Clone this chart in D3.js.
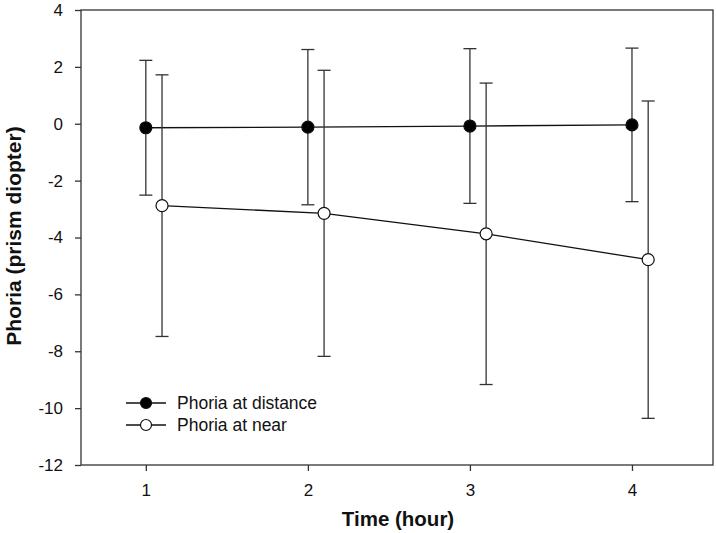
<!DOCTYPE html>
<html>
<head>
<meta charset="utf-8">
<script src="https://cdn.jsdelivr.net/npm/d3@7"></script>
<style>
  body { margin: 0; background: #fff; }
  text { font-family: "Liberation Sans", Arial, sans-serif; fill: #111; }
</style>
</head>
<body>
<div id="chart"></div>
<script>
const hours = [1, 2, 3, 4];
const distMean = [-0.14, -0.12, -0.08, -0.04];
const distSd = [2.37, 2.73, 2.72, 2.70];
const nearMean = [-2.88, -3.15, -3.87, -4.78];
const nearSd = [4.60, 5.03, 5.30, 5.58];
const yTicks = [4, 2, 0, -2, -4, -6, -8, -10, -12];
const xTicks = [1, 2, 3, 4];

const W = 716, H = 533;
const margin = {top: 10, right: 3, bottom: 68, left: 81};
const width = W - margin.left - margin.right;
const height = H - margin.top - margin.bottom;
const ink = '#333';

const svg = d3.select('#chart').append('svg')
  .attr('width', W).attr('height', H);
const chart = svg.append('g')
  .attr('transform', `translate(${margin.left},${margin.top})`);

const x = d3.scaleLinear().domain([0.6, 4.5]).range([0, width]);
const y = d3.scaleLinear().domain([-12, 4]).range([height, 0]);

// frame
chart.append('rect')
  .attr('width', width).attr('height', height)
  .attr('fill', 'none').attr('stroke', ink).attr('stroke-width', 1.3);

// plain hyphen for negatives, like the original
const fmt = d => String(d);
const yAxis = chart.append('g')
  .call(d3.axisLeft(y).tickValues(yTicks).tickFormat(fmt).tickSize(6).tickPadding(12));
const xAxis = chart.append('g')
  .attr('transform', `translate(0,${height})`)
  .call(d3.axisBottom(x).tickValues(xTicks).tickFormat(fmt).tickSize(6).tickPadding(13));
[yAxis, xAxis].forEach(a => {
  a.select('.domain').remove();
  a.selectAll('line').attr('stroke', ink).attr('stroke-width', 1.3);
  a.selectAll('text').style('font-size', '17px').attr('fill', '#111');
});

function series(mean, sd, offset, fill) {
  const pts = hours.map((h, i) => ({x: h + offset, m: mean[i], s: sd[i]}));
  const g = chart.append('g');
  const cap = 6.5;
  pts.forEach(p => {
    const cx = x(p.x);
    g.append('line').attr('x1', cx).attr('x2', cx)
      .attr('y1', y(p.m + p.s)).attr('y2', y(p.m - p.s))
      .attr('stroke', ink).attr('stroke-width', 1.3);
    [p.m + p.s, p.m - p.s].forEach(v => {
      g.append('line').attr('x1', cx - cap).attr('x2', cx + cap)
        .attr('y1', y(v)).attr('y2', y(v))
        .attr('stroke', ink).attr('stroke-width', 1.3);
    });
  });
  g.append('path').datum(pts)
    .attr('d', d3.line().x(d => x(d.x)).y(d => y(d.m)))
    .attr('fill', 'none').attr('stroke', '#111').attr('stroke-width', 1.3);
  g.selectAll('circle').data(pts).join('circle')
    .attr('cx', d => x(d.x)).attr('cy', d => y(d.m)).attr('r', 6)
    .attr('fill', fill).attr('stroke', '#111').attr('stroke-width', 1.2);
}

series(distMean, distSd, 0, '#000');
series(nearMean, nearSd, 0.1, '#fff');

// legend
const legend = [
  {label: 'Phoria at distance', fill: '#000'},
  {label: 'Phoria at near', fill: '#fff'}
];
legend.forEach((d, i) => {
  const lg = svg.append('g').attr('transform', `translate(126,${403 + i * 22})`);
  lg.append('line').attr('x1', 0).attr('x2', 40)
    .attr('stroke', '#111').attr('stroke-width', 1.3);
  lg.append('circle').attr('cx', 20).attr('r', 5.5)
    .attr('fill', d.fill).attr('stroke', '#111').attr('stroke-width', 1.2);
  lg.append('text').attr('x', 51).attr('dy', '0.35em')
    .style('font-size', '17.5px').text(d.label);
});

// axis titles
svg.append('text')
  .attr('x', 398).attr('y', 526)
  .attr('text-anchor', 'middle')
  .style('font-size', '20.5px').style('font-weight', 'bold')
  .text('Time (hour)');
svg.append('text')
  .attr('transform', `translate(21,236) rotate(-90)`)
  .attr('text-anchor', 'middle')
  .style('font-size', '21px').style('font-weight', 'bold')
  .text('Phoria (prism diopter)');
</script>
</body>
</html>
